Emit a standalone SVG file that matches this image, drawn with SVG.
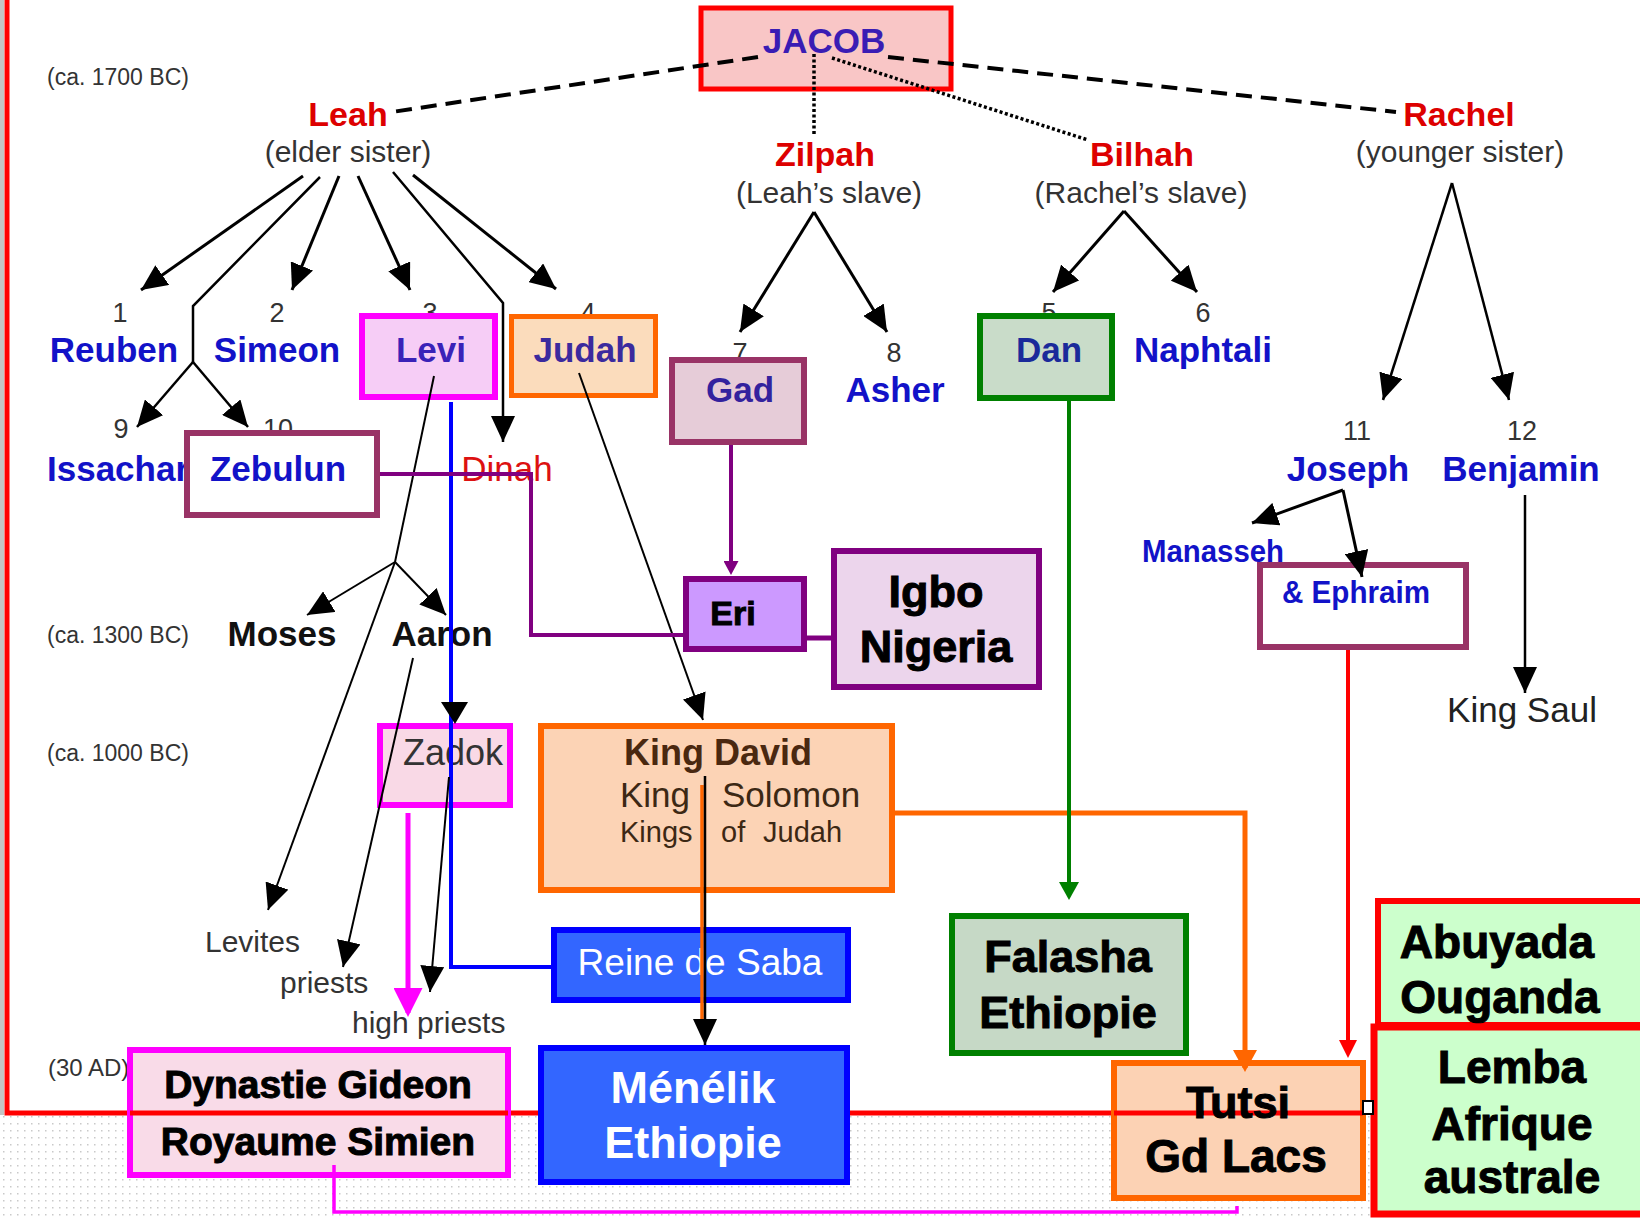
<svg xmlns="http://www.w3.org/2000/svg" width="1640" height="1220" viewBox="0 0 1640 1220">
<style>
text{font-family:"Liberation Sans",Arial,sans-serif}
.era{font-size:23px;fill:#333}
.num{font-size:27px;fill:#333;text-anchor:middle}
.tribe{font-size:35px;font-weight:bold;fill:#1212c8;text-anchor:middle}
.wife{font-size:34px;font-weight:bold;fill:#dd0000;text-anchor:middle}
.sub{font-size:30px;fill:#333;text-anchor:middle}
.reg{font-size:30px;fill:#333}
.blk{font-size:35px;font-weight:bold;fill:#111;text-anchor:middle}
.heavy{font-weight:bold;fill:#000;stroke:#000;stroke-width:1;text-anchor:middle}
.white{fill:#fff;text-anchor:middle}
.k{stroke:#000;fill:none}
.ka{stroke:#000;fill:none;marker-end:url(#ah)}
</style>
<defs>
<pattern id="dots" width="7" height="7" patternUnits="userSpaceOnUse"><rect width="7" height="7" fill="#fff"/><rect x="3" y="3" width="1.5" height="1.5" fill="#c9c9c9"/></pattern>
<marker id="ah" viewBox="0 0 26 24" refX="26" refY="12" markerWidth="26" markerHeight="24" markerUnits="userSpaceOnUse" orient="auto"><path d="M0,0 L26,12 L0,24 Z" fill="#000"/></marker>
<marker id="ahm" viewBox="0 0 29 29" refX="25" refY="14.5" markerWidth="29" markerHeight="29" markerUnits="userSpaceOnUse" orient="auto"><path d="M0,0 L29,14.5 L0,29 Z" fill="#ff00ff"/></marker>
<marker id="aho" viewBox="0 0 22 24" refX="18" refY="12" markerWidth="22" markerHeight="24" markerUnits="userSpaceOnUse" orient="auto"><path d="M0,0 L22,12 L0,24 Z" fill="#ff6600"/></marker>
<marker id="ahg" viewBox="0 0 18 20" refX="14" refY="10" markerWidth="18" markerHeight="20" markerUnits="userSpaceOnUse" orient="auto"><path d="M0,0 L18,10 L0,20 Z" fill="#008000"/></marker>
<marker id="ahr" viewBox="0 0 18 18" refX="14" refY="9" markerWidth="18" markerHeight="18" markerUnits="userSpaceOnUse" orient="auto"><path d="M0,0 L18,9 L0,18 Z" fill="#ff0000"/></marker>
<marker id="ahp" viewBox="0 0 14 15" refX="10" refY="7.5" markerWidth="14" markerHeight="15" markerUnits="userSpaceOnUse" orient="auto"><path d="M0,0 L14,7.5 L0,15 Z" fill="#800080"/></marker>
</defs>

<rect width="1640" height="1220" fill="#fff"/>
<rect x="0" y="1115" width="1640" height="105" fill="url(#dots)"/>
<rect x="0" y="0" width="4" height="1115" fill="#c4c4c4"/>
<path id="frame" d="M7,-5 V1113 H1366" fill="none" stroke="#ff0000" stroke-width="5"/>

<g id="eras">
<text class="era" x="47" y="85">(ca. 1700 BC)</text>
<text class="era" x="47" y="643">(ca. 1300 BC)</text>
<text class="era" x="47" y="761">(ca. 1000 BC)</text>
<text class="era" x="48" y="1076" style="font-size:24px">(30 AD)</text>
</g>

<g id="numbers">
<text class="num" x="120" y="322">1</text>
<text class="num" x="277" y="322">2</text>
<text class="num" x="430" y="322">3</text>
<text class="num" x="588" y="322">4</text>
<text class="num" x="1049" y="322">5</text>
<text class="num" x="1203" y="322">6</text>
<text class="num" x="740" y="362">7</text>
<text class="num" x="894" y="362">8</text>
<text class="num" x="121" y="438">9</text>
<text class="num" x="278" y="438">10</text>
<text class="num" x="1357" y="440">11</text>
<text class="num" x="1522" y="440">12</text>
</g>

<g id="jacob"><rect x="701" y="8" width="250" height="81" fill="#f9c6c6" stroke="#ff0000" stroke-width="5"/><text x="824" y="53" font-size="35" font-weight="bold" fill="#3a1cb4" text-anchor="middle">JACOB</text></g>
<g id="leah"><text class="wife" x="348" y="126">Leah</text><text class="sub" x="348" y="162">(elder sister)</text></g>
<g id="zilpah"><text class="wife" x="825" y="166">Zilpah</text><text class="sub" x="829" y="203">(Leah’s slave)</text></g>
<g id="bilhah"><text class="wife" x="1142" y="166">Bilhah</text><text class="sub" x="1141" y="203">(Rachel’s slave)</text></g>
<g id="rachel"><text class="wife" x="1459" y="126">Rachel</text><text class="sub" x="1460" y="162">(younger sister)</text></g>

<g id="reuben"><text class="tribe" x="114" y="362">Reuben</text></g>
<g id="simeon"><text class="tribe" x="277" y="362">Simeon</text></g>
<g id="levi"><rect x="362" y="316" width="133" height="81" fill="#f6cdf6" stroke="#ff00ff" stroke-width="6"/><text class="tribe" x="431" y="362" style="fill:#3a22b8">Levi</text></g>
<g id="judah"><rect x="511.5" y="316.5" width="144" height="79" fill="#fbdcbc" stroke="#ff6600" stroke-width="5"/><text class="tribe" x="585" y="362" style="fill:#3b2a9e">Judah</text></g>
<g id="gad"><rect x="672" y="360" width="132" height="82" fill="#e6ccd8" stroke="#993366" stroke-width="6"/><text class="tribe" x="740" y="402" style="fill:#33229e">Gad</text></g>
<g id="asher"><text class="tribe" x="895" y="402">Asher</text></g>
<g id="dan"><rect x="980" y="316" width="132" height="82" fill="#c9dcc9" stroke="#008000" stroke-width="6"/><text class="tribe" x="1049" y="362" style="fill:#1a2a9a">Dan</text></g>
<g id="naphtali"><text class="tribe" x="1203" y="362">Naphtali</text></g>
<g id="issachar"><text class="tribe" x="47" y="481" style="text-anchor:start">Issachar</text></g>
<g id="zebulun"><rect x="187" y="433" width="190" height="82" fill="#fff" stroke="#993366" stroke-width="6"/><text class="tribe" x="278" y="481">Zebulun</text></g>
<g id="dinah"><text x="507" y="481" font-size="35" fill="#dd1111" text-anchor="middle">Dinah</text></g>
<g id="joseph"><text class="tribe" x="1348" y="481">Joseph</text></g>
<g id="benjamin"><text class="tribe" x="1521" y="481">Benjamin</text></g>
<g id="ephraim"><rect x="1260" y="565" width="206" height="82" fill="#fff" stroke="#993366" stroke-width="6"/><text x="1282" y="603" font-size="32" font-weight="bold" fill="#1212c8" textLength="148" lengthAdjust="spacingAndGlyphs">&amp; Ephraim</text></g>
<g id="manasseh"><text x="1142" y="562" font-size="32" font-weight="bold" fill="#1212c8" textLength="142" lengthAdjust="spacingAndGlyphs">Manasseh</text></g>
<g id="kingsaul"><text x="1522" y="722" font-size="35" fill="#222" text-anchor="middle">King Saul</text></g>

<g id="eri"><rect x="686" y="579" width="118" height="70" fill="#cc99ff" stroke="#800080" stroke-width="6"/><text class="heavy" x="733" y="625" font-size="34">Eri</text></g>
<g id="igbo"><rect x="834" y="551" width="205" height="136" fill="#ecd5ec" stroke="#800080" stroke-width="6"/><text class="heavy" x="936" y="607" font-size="45">Igbo</text><text class="heavy" x="936" y="662" font-size="45">Nigeria</text></g>

<g id="moses"><text class="blk" x="282" y="646">Moses</text></g>
<g id="aaron"><text class="blk" x="442" y="646">Aaron</text></g>
<g id="levites"><text class="reg" x="205" y="952">Levites</text></g>
<g id="priests"><text class="reg" x="280" y="993">priests</text></g>
<g id="highpriests"><text class="reg" x="352" y="1033">high priests</text></g>

<g id="zadok"><rect x="380" y="726" width="130" height="79" fill="#f9d9e6" stroke="#ff00ff" stroke-width="6"/><text x="453" y="765" font-size="36" fill="#333" text-anchor="middle">Zadok</text></g>
<g id="kingdavid"><rect x="541" y="726" width="351" height="164" fill="#fcd3b5" stroke="#ff6600" stroke-width="6"/>
<text x="718" y="765" font-size="36" font-weight="bold" fill="#4a2810" text-anchor="middle">King David</text>
<text x="620" y="807" font-size="35" fill="#3c2814">King</text>
<text x="722" y="807" font-size="35" fill="#3c2814">Solomon</text>
<text x="620" y="842" font-size="29" fill="#3c2814">Kings</text>
<text x="721" y="842" font-size="29" fill="#3c2814">of</text>
<text x="763" y="842" font-size="29" fill="#3c2814">Judah</text></g>
<g id="reinedesaba"><rect x="554" y="930" width="294" height="70" fill="#3366ff" stroke="#0000ff" stroke-width="6"/><text class="white" x="700" y="975" font-size="37">Reine de Saba</text></g>
<g id="falasha"><rect x="952" y="916" width="234" height="137" fill="#c6d9c6" stroke="#008000" stroke-width="6"/><text class="heavy" x="1068" y="972" font-size="45">Falasha</text><text class="heavy" x="1068" y="1028" font-size="45">Ethiopie</text></g>

<g id="dynastie"><rect x="130" y="1050" width="378" height="125" fill="#f9dbe8" stroke="#ff00ff" stroke-width="6"/><line x1="130" y1="1113" x2="508" y2="1113" stroke="#ff0000" stroke-width="5"/><text class="heavy" x="318" y="1098" font-size="39">Dynastie Gideon</text><text class="heavy" x="318" y="1155" font-size="39">Royaume Simien</text></g>
<g id="tutsi"><rect x="1114" y="1063" width="249" height="135" fill="#fcd2b4" stroke="#ff6600" stroke-width="6"/><line x1="1114" y1="1113" x2="1363" y2="1113" stroke="#ff0000" stroke-width="5"/><text class="heavy" x="1238" y="1118" font-size="45">Tutsi</text><text class="heavy" x="1236" y="1172" font-size="46">Gd Lacs</text></g>
<g id="menelik"><rect x="541" y="1048" width="306" height="134" fill="#3366ff" stroke="#0000ff" stroke-width="6"/><text class="white" x="693" y="1103" font-size="45" font-weight="bold">Ménélik</text><text class="white" x="693" y="1158" font-size="45" font-weight="bold">Ethiopie</text></g>
<g id="abuyada"><rect x="1378" y="901" width="272" height="124" fill="#ccffcc" stroke="#ff0000" stroke-width="6"/><text class="heavy" x="1497" y="958" font-size="46">Abuyada</text><text class="heavy" x="1500" y="1013" font-size="46">Ouganda</text></g>
<g id="lemba"><rect x="1374" y="1027" width="276" height="187" fill="#ccffcc" stroke="#ff0000" stroke-width="7"/><text class="heavy" x="1512" y="1083" font-size="46">Lemba</text><text class="heavy" x="1512" y="1140" font-size="46">Afrique</text><text class="heavy" x="1512" y="1193" font-size="46">australe</text></g>
<rect id="handle" x="1363" y="1101" width="10" height="13" fill="#fff" stroke="#000" stroke-width="2"/>

<g id="connectors">
<path d="M758,57 L392,112" fill="none" stroke="#000" stroke-width="4" stroke-dasharray="16 9"/>
<path d="M888,57 L1396,112" fill="none" stroke="#000" stroke-width="4" stroke-dasharray="16 9"/>
<path d="M814,54 V136" fill="none" stroke="#000" stroke-width="3.5" stroke-dasharray="3 2.5"/>
<path d="M832,58 L1088,140" fill="none" stroke="#000" stroke-width="3.5" stroke-dasharray="3 2.5"/>

<path class="ka" stroke-width="3" d="M303,176 L141,290"/>
<path class="k" stroke-width="2.5" d="M320,177 L193,306 L193,362"/>
<path class="ka" stroke-width="2.5" d="M193,362 L137,427"/>
<path class="ka" stroke-width="2.5" d="M193,362 L248,427"/>
<path class="ka" stroke-width="3" d="M339,176 L292,290"/>
<path class="ka" stroke-width="3" d="M358,176 L410,290"/>
<path class="ka" stroke-width="2.5" d="M393,172 L503,303 L503,442"/>
<path class="ka" stroke-width="3" d="M413,175 L556,289"/>

<path class="ka" stroke-width="3" d="M814,212 L740,332"/>
<path class="ka" stroke-width="3" d="M814,212 L887,332"/>
<path class="ka" stroke-width="3" d="M1124,211 L1053,292"/>
<path class="ka" stroke-width="3" d="M1124,211 L1197,292"/>
<path class="ka" stroke-width="2.5" d="M1452,183 L1383,400"/>
<path class="ka" stroke-width="2.5" d="M1452,183 L1509,400"/>
<path class="ka" stroke-width="3" d="M1343,490 L1252,523"/>
<path class="ka" stroke-width="3" d="M1343,490 L1362,577"/>
<path class="ka" stroke-width="2.5" d="M1525,495 L1525,693"/>

<path class="k" stroke-width="2" d="M434,376 L395,562"/>
<path class="ka" stroke-width="2" d="M395,562 L307,615"/>
<path class="ka" stroke-width="2" d="M395,562 L446,615"/>
<path class="ka" stroke-width="2" d="M395,562 L268,910"/>
<path class="ka" stroke-width="2" d="M413,658 L343,967"/>

<path d="M451,402 V967 H552" fill="none" stroke="#0000ff" stroke-width="4"/>
<polygon points="441,702 468,702 455,724" fill="#000"/>
<path class="ka" stroke-width="2" d="M449,777 L430,992"/>
<path d="M408,813 V1013" fill="none" stroke="#ff00ff" stroke-width="5" marker-end="url(#ahm)"/>
<path d="M334,1165 V1212 H1237 V1206" fill="none" stroke="#ff00ff" stroke-width="3.5"/>

<path class="ka" stroke-width="2" d="M579,373 L703,720"/>
<path d="M702,785 V1020" fill="none" stroke="#ff6600" stroke-width="3.5"/>
<path class="ka" stroke-width="2.5" d="M705,776 V1045"/>
<path d="M895,813 H1245 V1068" fill="none" stroke="#ff6600" stroke-width="5" marker-end="url(#aho)"/>

<path d="M1069,401 V896" fill="none" stroke="#008000" stroke-width="4" marker-end="url(#ahg)"/>
<path d="M1348,650 V1054" fill="none" stroke="#ff0000" stroke-width="4" marker-end="url(#ahr)"/>
<path d="M731,445 V571" fill="none" stroke="#800080" stroke-width="4" marker-end="url(#ahp)"/>
<path d="M380,474 H531 V635 H685" fill="none" stroke="#800080" stroke-width="4"/>
<path d="M807,638 H831" fill="none" stroke="#800080" stroke-width="5"/>
</g>
</svg>
